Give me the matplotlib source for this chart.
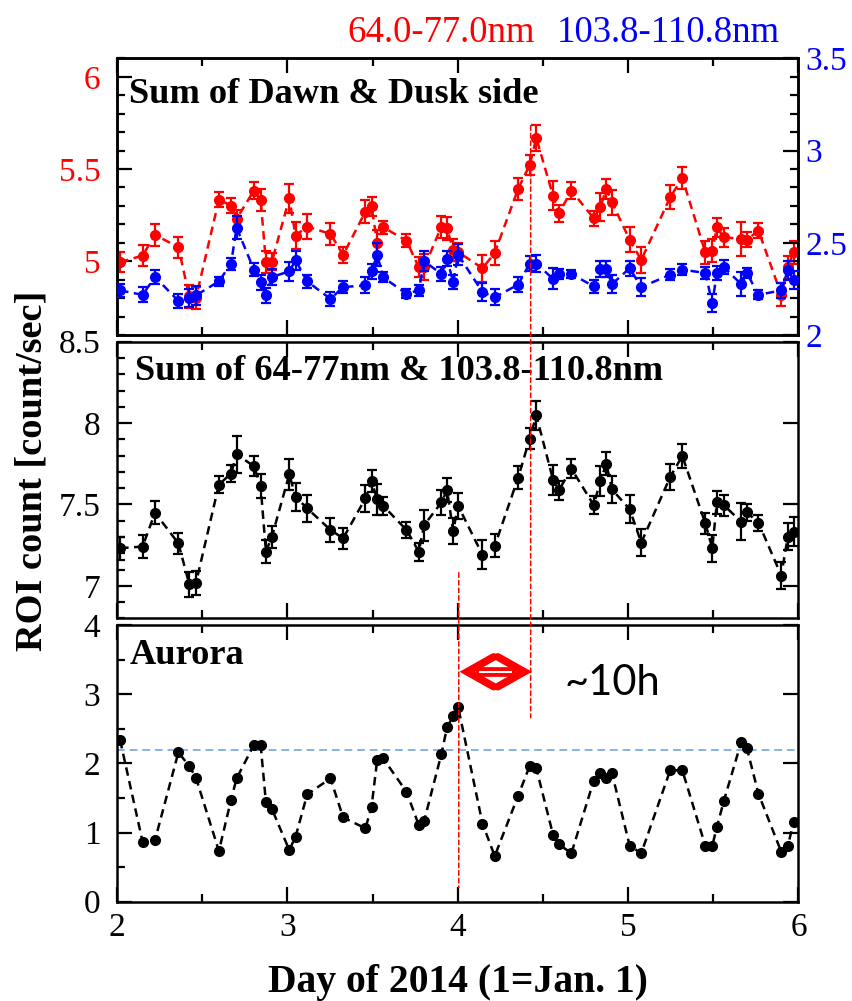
import matplotlib
matplotlib.use("Agg")
import matplotlib.pyplot as plt
from matplotlib.patches import ConnectionPatch
from matplotlib.ticker import MultipleLocator, FuncFormatter

# Observation times (day of 2014)
day = [2.018, 2.150, 2.223, 2.360, 2.424, 2.463, 2.598, 2.669, 2.702, 2.803,
       2.843, 2.874, 2.909, 3.011, 3.048, 3.116, 3.253, 3.327, 3.458, 3.494,
       3.527, 3.562, 3.699, 3.771, 3.803, 3.904, 3.937, 3.973, 4.002, 4.145,
       4.217, 4.354, 4.422, 4.461, 4.559, 4.594, 4.667, 4.798, 4.837, 4.872,
       4.905, 5.009, 5.077, 5.247, 5.318, 5.453, 5.494, 5.521, 5.561, 5.664,
       5.697, 5.765, 5.899, 5.937, 5.971]

# 64.0-77.0 nm, dawn + dusk side (count/sec)
band_64_77 = [4.995, 5.031, 5.143, 5.076, 4.810, 4.800, 5.334, 5.302, 5.230, 5.383,
              5.332, 4.995, 4.998, 5.341, 5.139, 5.188, 5.148, 5.034, 5.269, 5.298,
              5.097, 5.184, 5.112, 4.967, 4.967, 5.188, 5.179, 5.060, 5.050, 4.962,
              5.045, 5.392, 5.522, 5.668, 5.356, 5.260, 5.383, 5.233, 5.293, 5.392,
              5.320, 5.116, 5.007, 5.347, 5.451, 5.049, 5.058, 5.184, 5.130, 5.121,
              5.117, 5.166, 4.819, 4.968, 5.049]
err_64_77 = [0.054, 0.058, 0.060, 0.057, 0.063, 0.060, 0.040, 0.043, 0.050, 0.048,
             0.060, 0.060, 0.045, 0.080, 0.075, 0.070, 0.060, 0.045, 0.063, 0.050,
             0.070, 0.036, 0.036, 0.054, 0.070, 0.060, 0.063, 0.060, 0.050, 0.072,
             0.063, 0.060, 0.054, 0.072, 0.077, 0.045, 0.045, 0.040, 0.077, 0.054,
             0.068, 0.068, 0.068, 0.066, 0.059, 0.063, 0.060, 0.052, 0.051, 0.092,
             0.040, 0.040, 0.063, 0.063, 0.063]

# 103.8-110.8 nm, dawn + dusk side (count/sec)
band_103_110 = [2.242, 2.218, 2.315, 2.185, 2.200, 2.215, 2.291, 2.387, 2.582, 2.355,
                2.285, 2.215, 2.315, 2.345, 2.405, 2.291, 2.196, 2.260, 2.269, 2.345,
                2.436, 2.313, 2.224, 2.242, 2.400, 2.331, 2.413, 2.287, 2.436, 2.233,
                2.205, 2.273, 2.387, 2.387, 2.305, 2.331, 2.331, 2.264, 2.358, 2.358,
                2.276, 2.362, 2.260, 2.327, 2.355, 2.336, 2.173, 2.336, 2.367, 2.276,
                2.336, 2.218, 2.242, 2.351, 2.300]
err_103_110 = [0.036, 0.040, 0.040, 0.036, 0.050, 0.050, 0.025, 0.032, 0.064, 0.036,
               0.040, 0.040, 0.045, 0.053, 0.050, 0.036, 0.036, 0.034, 0.043, 0.042,
               0.062, 0.027, 0.025, 0.030, 0.055, 0.038, 0.040, 0.040, 0.055, 0.050,
               0.044, 0.040, 0.040, 0.047, 0.056, 0.027, 0.023, 0.035, 0.043, 0.043,
               0.049, 0.041, 0.049, 0.031, 0.030, 0.032, 0.048, 0.036, 0.038, 0.064,
               0.025, 0.025, 0.041, 0.050, 0.048]

# Sum of both bands (count/sec)
band_sum = [7.231, 7.241, 7.449, 7.261, 7.010, 7.016, 7.622, 7.690, 7.808, 7.735,
            7.612, 7.210, 7.302, 7.684, 7.547, 7.476, 7.343, 7.292, 7.537, 7.643,
            7.531, 7.492, 7.343, 7.210, 7.373, 7.512, 7.588, 7.337, 7.492, 7.190,
            7.245, 7.663, 7.904, 8.047, 7.653, 7.588, 7.720, 7.496, 7.643, 7.751,
            7.592, 7.471, 7.265, 7.669, 7.798, 7.384, 7.231, 7.512, 7.496, 7.394,
            7.451, 7.388, 7.063, 7.302, 7.333]
err_sum = [0.070, 0.070, 0.070, 0.066, 0.077, 0.073, 0.053, 0.053, 0.114, 0.061,
           0.074, 0.071, 0.068, 0.095, 0.087, 0.083, 0.072, 0.064, 0.082, 0.068,
           0.095, 0.056, 0.051, 0.056, 0.095, 0.076, 0.074, 0.079, 0.080, 0.089,
           0.071, 0.071, 0.066, 0.088, 0.092, 0.058, 0.057, 0.056, 0.094, 0.069,
           0.084, 0.084, 0.085, 0.081, 0.071, 0.066, 0.084, 0.071, 0.065, 0.112,
           0.051, 0.049, 0.082, 0.082, 0.087]

# Aurora count (count/sec)
aurora = [2.337, 0.867, 0.892, 2.159, 1.961, 1.793, 0.733, 1.470, 1.783, 2.265,
          2.265, 1.436, 1.340, 0.747, 0.940, 1.551, 1.783, 1.219, 1.060, 1.373,
          2.048, 2.072, 1.590, 1.108, 1.171, 2.135, 2.520, 2.684, 2.819, 1.130,
          0.660, 1.530, 1.960, 1.930, 0.970, 0.830, 0.700, 1.750, 1.860, 1.790,
          1.860, 0.810, 0.700, 1.900, 1.900, 0.810, 0.810, 1.080, 1.450, 2.310,
          2.220, 1.560, 0.720, 0.800, 1.150]
aurora_level = 2.2

aurora_peak_day = 4.006
torus_peak_day = 4.428

RED = "#ff0000"
BLUE = "#0000ff"
LIGHTBLUE = "#86b2e3"

plt.rcParams["font.family"] = ["Liberation Serif", "DejaVu Serif"]
plt.rcParams["axes.linewidth"] = 1.8

fig = plt.figure(figsize=(8.53, 10.01), dpi=100)
left, width = 0.1372, 0.7989
ax1 = fig.add_axes([left, 0.6653, width, 0.2764])
ax2 = fig.add_axes([left, 0.3823, width, 0.2763], sharex=ax1)
ax3 = fig.add_axes([left, 0.0992, width, 0.2764], sharex=ax1)
ax1r = ax1.twinx()

fmt = FuncFormatter(lambda v, p: "%g" % round(v, 3))
TICK_FS = 24
TITLE_FS = 26.2

dash_kw = dict(linestyle=(0, (3.4, 2.2)), linewidth=1.8)
err_kw = dict(fmt="o", markersize=7, elinewidth=1.6, capsize=3.5, capthick=1.6)


def plot_series(ax, y, err, color):
    ax.plot(day, y, color=color, zorder=2, **dash_kw)
    ax.errorbar(day, y, yerr=err, color=color, ecolor=color, zorder=3, **err_kw)


def style_axis(ax, ymin, ymax, ymajor, yminor, xmajor, xminor, labelcolor="black"):
    ax.set_ylim(ymin, ymax)
    ax.yaxis.set_major_locator(MultipleLocator(ymajor))
    ax.yaxis.set_minor_locator(MultipleLocator(yminor))
    ax.yaxis.set_major_formatter(fmt)
    ax.xaxis.set_major_locator(MultipleLocator(xmajor))
    if xminor:
        ax.xaxis.set_minor_locator(MultipleLocator(xminor))
    ax.tick_params(which="both", direction="in", top=True, width=1.6)
    ax.tick_params(which="major", length=11)
    ax.tick_params(which="minor", length=6)
    ax.tick_params(axis="y", labelsize=TICK_FS, labelcolor=labelcolor, pad=12)
    ax.tick_params(axis="x", labelsize=TICK_FS, pad=8)


ax1.set_xlim(2, 6)

# Top panel: dawn + dusk side for both bands
plot_series(ax1, band_64_77, err_64_77, RED)
plot_series(ax1r, band_103_110, err_103_110, BLUE)
style_axis(ax1, 4.6, 6.1, 0.5, 0.1, 0.5, None, labelcolor=RED)
ax1.tick_params(right=False)
ax1r.set_ylim(2, 3.5)
ax1r.yaxis.set_major_locator(MultipleLocator(0.5))
ax1r.yaxis.set_minor_locator(MultipleLocator(0.1))
ax1r.yaxis.set_major_formatter(fmt)
ax1r.tick_params(which="both", direction="in", width=1.6, labelsize=TICK_FS,
                 labelcolor=BLUE, pad=5)
ax1r.tick_params(which="major", length=11)
ax1r.tick_params(which="minor", length=6)
for s in ax1r.spines.values():
    s.set_linewidth(1.8)
ax1.text(0.018, 0.837, "Sum of Dawn & Dusk side", transform=ax1.transAxes,
         fontsize=TITLE_FS, fontweight="bold", va="baseline")

# Middle panel: sum of both bands
plot_series(ax2, band_sum, err_sum, "black")
style_axis(ax2, 6.8, 8.5, 0.5, 0.1, 1, 0.5)
ax2.tick_params(right=True)
ax2.text(0.026, 0.862, "Sum of 64-77nm & 103.8-110.8nm", transform=ax2.transAxes,
         fontsize=TITLE_FS, fontweight="bold", va="baseline")

# Bottom panel: aurora
ax3.axhline(aurora_level, color=LIGHTBLUE, linestyle=(0, (4, 2.5)), linewidth=1.4,
            zorder=1)
ax3.plot(day, aurora, color="black", zorder=2, **dash_kw)
ax3.plot(day, aurora, "o", color="black", markersize=7, zorder=3)
style_axis(ax3, 0, 4, 1, 0.5, 1, 0.5)
ax3.tick_params(right=True)
ax3.text(0.019, 0.859, "Aurora", transform=ax3.transAxes,
         fontsize=TITLE_FS, fontweight="bold", va="baseline")

plt.setp(ax1.get_xticklabels(), visible=False)
plt.setp(ax2.get_xticklabels(), visible=False)
ax3.xaxis.set_major_formatter(fmt)

# Double arrow marking the delay between the two peaks
xl, xr = 4.056, 4.390
xc, yc, h = 0.5 * (xl + xr), 3.324, 0.215
arm = dict(color=RED, linewidth=5.5, solid_capstyle="round", solid_joinstyle="miter",
           zorder=5)
ax3.plot([xc - 0.012, xl, xc - 0.012], [yc + h, yc, yc - h], **arm)
ax3.plot([xc + 0.012, xr, xc + 0.012], [yc + h, yc, yc - h], **arm)
ax3.plot([xl + 0.05, xr - 0.05], [yc, yc], color=RED, linewidth=7,
         solid_capstyle="butt", zorder=5)
ax3.plot([xl + 0.07, xr - 0.07], [yc, yc], color="white", linewidth=1.5,
         solid_capstyle="butt", zorder=6)
ax3.text(4.628, 2.99, "~10h", fontsize=30, family=["Lato", "DejaVu Sans"],
         va="baseline", ha="left")

# Vertical markers for the aurora peak and the torus emission peak
line_kw = dict(color=RED, linestyle=(0, (3, 2)), linewidth=1.1, zorder=10)
fig.add_artist(ConnectionPatch(xyA=(aurora_peak_day, 7.08), coordsA=ax2.transData,
                               xyB=(aurora_peak_day, 0.2), coordsB=ax3.transData,
                               **line_kw))
fig.add_artist(ConnectionPatch(xyA=(torus_peak_day, 5.735), coordsA=ax1.transData,
                               xyB=(torus_peak_day, 2.66), coordsB=ax3.transData,
                               **line_kw))

# Band labels above the top panel
fig.text(0.627, 0.958, "64.0-77.0nm", color=RED, fontsize=26.5, ha="right",
         va="baseline")
fig.text(0.653, 0.958, "103.8-110.8nm", color=BLUE, fontsize=26.5, ha="left",
         va="baseline")

fig.text(0.037, 0.530, "ROI count [count/sec]", rotation=90, fontsize=27.6,
         fontweight="bold", ha="center", va="center")
fig.text(0.537, 0.009, "Day of 2014 (1=Jan. 1)", fontsize=28.5, fontweight="bold",
         ha="center", va="baseline")

fig.savefig("out.png", dpi=100)
